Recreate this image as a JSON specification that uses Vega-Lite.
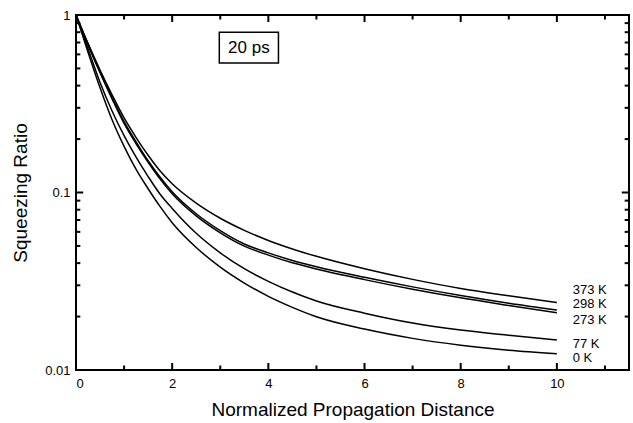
{
  "$schema": "https://vega.github.io/schema/vega-lite/v6.json",
  "width": 553,
  "height": 355,
  "autosize": {"type": "none"},
  "padding": {"left": 76, "top": 15, "right": 4, "bottom": 53},
  "background": "white",
  "config": {
    "view": {"stroke": "black", "strokeWidth": 2},
    "font": "Liberation Sans",
    "axis": {
      "grid": false,
      "domain": false,
      "ticks": false,
      "labelFont": "Liberation Sans",
      "labelFontSize": 13,
      "labelColor": "black",
      "titleFont": "Liberation Sans",
      "titleFontSize": 19,
      "titleFontWeight": "normal",
      "titleColor": "black"
    }
  },
  "datasets": {
    "curves": [
      {"T": "0 K", "x": 0, "v": 1}, {"T": "0 K", "x": 0.25, "v": 0.617}, {"T": "0 K", "x": 0.5, "v": 0.389}, {"T": "0 K", "x": 0.75, "v": 0.257}, {"T": "0 K", "x": 1, "v": 0.182}, {"T": "0 K", "x": 1.25, "v": 0.135}, {"T": "0 K", "x": 1.5, "v": 0.105}, {"T": "0 K", "x": 1.75, "v": 0.0832}, {"T": "0 K", "x": 2, "v": 0.0676}, {"T": "0 K", "x": 2.5, "v": 0.049}, {"T": "0 K", "x": 3, "v": 0.038}, {"T": "0 K", "x": 3.5, "v": 0.0309}, {"T": "0 K", "x": 4, "v": 0.026}, {"T": "0 K", "x": 4.5, "v": 0.02254}, {"T": "0 K", "x": 5, "v": 0.01995}, {"T": "0 K", "x": 6, "v": 0.017}, {"T": "0 K", "x": 7, "v": 0.01507}, {"T": "0 K", "x": 8, "v": 0.0138}, {"T": "0 K", "x": 9, "v": 0.01294}, {"T": "0 K", "x": 10, "v": 0.01236},
      {"T": "77 K", "x": 0, "v": 1}, {"T": "77 K", "x": 0.25, "v": 0.646}, {"T": "77 K", "x": 0.5, "v": 0.417}, {"T": "77 K", "x": 0.75, "v": 0.288}, {"T": "77 K", "x": 1, "v": 0.209}, {"T": "77 K", "x": 1.25, "v": 0.158}, {"T": "77 K", "x": 1.5, "v": 0.123}, {"T": "77 K", "x": 1.75, "v": 0.0977}, {"T": "77 K", "x": 2, "v": 0.0813}, {"T": "77 K", "x": 2.5, "v": 0.0589}, {"T": "77 K", "x": 3, "v": 0.0457}, {"T": "77 K", "x": 3.5, "v": 0.0372}, {"T": "77 K", "x": 4, "v": 0.0316}, {"T": "77 K", "x": 4.5, "v": 0.0275}, {"T": "77 K", "x": 5, "v": 0.0245}, {"T": "77 K", "x": 6, "v": 0.0209}, {"T": "77 K", "x": 7, "v": 0.0184}, {"T": "77 K", "x": 8, "v": 0.0168}, {"T": "77 K", "x": 9, "v": 0.0157}, {"T": "77 K", "x": 10, "v": 0.01476},
      {"T": "273 K", "x": 0, "v": 1}, {"T": "273 K", "x": 0.25, "v": 0.679}, {"T": "273 K", "x": 0.5, "v": 0.473}, {"T": "273 K", "x": 0.75, "v": 0.337}, {"T": "273 K", "x": 1, "v": 0.245}, {"T": "273 K", "x": 1.25, "v": 0.188}, {"T": "273 K", "x": 1.5, "v": 0.148}, {"T": "273 K", "x": 1.75, "v": 0.119}, {"T": "273 K", "x": 2, "v": 0.0984}, {"T": "273 K", "x": 2.5, "v": 0.0738}, {"T": "273 K", "x": 3, "v": 0.0593}, {"T": "273 K", "x": 3.5, "v": 0.0499}, {"T": "273 K", "x": 4, "v": 0.0444}, {"T": "273 K", "x": 4.5, "v": 0.0402}, {"T": "273 K", "x": 5, "v": 0.0371}, {"T": "273 K", "x": 6, "v": 0.0323}, {"T": "273 K", "x": 7, "v": 0.0285}, {"T": "273 K", "x": 8, "v": 0.0255}, {"T": "273 K", "x": 9, "v": 0.0231}, {"T": "273 K", "x": 10, "v": 0.021},
      {"T": "298 K", "x": 0, "v": 1}, {"T": "298 K", "x": 0.25, "v": 0.684}, {"T": "298 K", "x": 0.5, "v": 0.479}, {"T": "298 K", "x": 0.75, "v": 0.343}, {"T": "298 K", "x": 1, "v": 0.251}, {"T": "298 K", "x": 1.25, "v": 0.193}, {"T": "298 K", "x": 1.5, "v": 0.151}, {"T": "298 K", "x": 1.75, "v": 0.122}, {"T": "298 K", "x": 2, "v": 0.101}, {"T": "298 K", "x": 2.5, "v": 0.0759}, {"T": "298 K", "x": 3, "v": 0.061}, {"T": "298 K", "x": 3.5, "v": 0.0513}, {"T": "298 K", "x": 4, "v": 0.0457}, {"T": "298 K", "x": 4.5, "v": 0.0414}, {"T": "298 K", "x": 5, "v": 0.0382}, {"T": "298 K", "x": 6, "v": 0.0333}, {"T": "298 K", "x": 7, "v": 0.0294}, {"T": "298 K", "x": 8, "v": 0.0263}, {"T": "298 K", "x": 9, "v": 0.0238}, {"T": "298 K", "x": 10, "v": 0.0218},
      {"T": "373 K", "x": 0, "v": 1}, {"T": "373 K", "x": 0.25, "v": 0.692}, {"T": "373 K", "x": 0.5, "v": 0.49}, {"T": "373 K", "x": 0.75, "v": 0.355}, {"T": "373 K", "x": 1, "v": 0.263}, {"T": "373 K", "x": 1.25, "v": 0.204}, {"T": "373 K", "x": 1.5, "v": 0.162}, {"T": "373 K", "x": 1.75, "v": 0.132}, {"T": "373 K", "x": 2, "v": 0.112}, {"T": "373 K", "x": 2.5, "v": 0.0871}, {"T": "373 K", "x": 3, "v": 0.0716}, {"T": "373 K", "x": 3.5, "v": 0.0612}, {"T": "373 K", "x": 4, "v": 0.0537}, {"T": "373 K", "x": 4.5, "v": 0.0481}, {"T": "373 K", "x": 5, "v": 0.0437}, {"T": "373 K", "x": 6, "v": 0.0372}, {"T": "373 K", "x": 7, "v": 0.0324}, {"T": "373 K", "x": 8, "v": 0.0288}, {"T": "373 K", "x": 9, "v": 0.0262}, {"T": "373 K", "x": 10, "v": 0.024}
    ],
    "labels": [
      {"T": "373 K", "x": 10.33, "v": 0.0284},
      {"T": "298 K", "x": 10.33, "v": 0.0234},
      {"T": "273 K", "x": 10.33, "v": 0.0192},
      {"T": "77 K", "x": 10.33, "v": 0.0141},
      {"T": "0 K", "x": 10.33, "v": 0.01165}
    ],
    "box": [
      {"x": 2.98, "x2": 4.21, "v": 0.8, "v2": 0.537, "xc": 3.595, "vc": 0.655, "label": "20 ps"}
    ],
    "xmajor": [{"x": 0}, {"x": 2}, {"x": 4}, {"x": 6}, {"x": 8}, {"x": 10}],
    "xminor": [{"x": 1}, {"x": 3}, {"x": 5}, {"x": 7}, {"x": 9}, {"x": 11}],
    "ymajor": [{"v": 0.01}, {"v": 0.1}, {"v": 1}],
    "yminor": [{"v": 0.02}, {"v": 0.03}, {"v": 0.04}, {"v": 0.05}, {"v": 0.06}, {"v": 0.07}, {"v": 0.08}, {"v": 0.09}, {"v": 0.2}, {"v": 0.3}, {"v": 0.4}, {"v": 0.5}, {"v": 0.6}, {"v": 0.7}, {"v": 0.8}, {"v": 0.9}]
  },
  "layer": [
    {
      "data": {"name": "curves"},
      "mark": {"type": "line", "color": "black", "strokeWidth": 1.5, "interpolate": "monotone"},
      "encoding": {
        "x": {"field": "x", "type": "quantitative", "scale": {"domain": [0, 11.5], "nice": false, "zero": false},
              "axis": {"orient": "bottom", "values": [0, 2, 4, 6, 8, 10], "labelPadding": 7, "title": "Normalized Propagation Distance", "titlePadding": 10}},
        "y": {"field": "v", "type": "quantitative", "scale": {"type": "log", "domain": [0.01, 1], "nice": false},
              "axis": {"orient": "left", "values": [0.01, 0.1, 1], "labelPadding": 6, "format": "~g", "title": "Squeezing Ratio", "titlePadding": 14}},
        "detail": {"field": "T"}
      }
    },
    {
      "data": {"name": "labels"},
      "mark": {"type": "text", "align": "left", "baseline": "middle", "fontSize": 13, "font": "Liberation Sans", "color": "black"},
      "encoding": {
        "x": {"field": "x", "type": "quantitative"},
        "y": {"field": "v", "type": "quantitative"},
        "text": {"field": "T"}
      }
    },
    {
      "data": {"name": "box"},
      "mark": {"type": "rect", "fill": "white", "stroke": "black", "strokeWidth": 1.5},
      "encoding": {
        "x": {"field": "x", "type": "quantitative"},
        "x2": {"field": "x2"},
        "y": {"field": "v", "type": "quantitative"},
        "y2": {"field": "v2"}
      }
    },
    {
      "data": {"name": "box"},
      "mark": {"type": "text", "align": "center", "baseline": "middle", "fontSize": 17, "font": "Liberation Sans", "color": "black"},
      "encoding": {
        "x": {"field": "xc", "type": "quantitative"},
        "y": {"field": "vc", "type": "quantitative"},
        "text": {"field": "label"}
      }
    },
    {
      "data": {"name": "xmajor"},
      "mark": {"type": "rule", "color": "black", "strokeWidth": 2},
      "encoding": {"x": {"field": "x", "type": "quantitative"}, "y": {"datum": 0.01, "type": "quantitative"}, "y2": {"datum": 0.01095}}
    },
    {
      "data": {"name": "xminor"},
      "mark": {"type": "rule", "color": "black", "strokeWidth": 2},
      "encoding": {"x": {"field": "x", "type": "quantitative"}, "y": {"datum": 0.01, "type": "quantitative"}, "y2": {"datum": 0.0106}}
    },
    {
      "data": {"name": "xmajor"},
      "mark": {"type": "rule", "color": "black", "strokeWidth": 2},
      "encoding": {"x": {"field": "x", "type": "quantitative"}, "y": {"datum": 1, "type": "quantitative"}, "y2": {"datum": 0.913}}
    },
    {
      "data": {"name": "xminor"},
      "mark": {"type": "rule", "color": "black", "strokeWidth": 2},
      "encoding": {"x": {"field": "x", "type": "quantitative"}, "y": {"datum": 1, "type": "quantitative"}, "y2": {"datum": 0.943}}
    },
    {
      "data": {"name": "ymajor"},
      "mark": {"type": "rule", "color": "black", "strokeWidth": 2},
      "encoding": {"y": {"field": "v", "type": "quantitative"}, "x": {"datum": 0, "type": "quantitative"}, "x2": {"datum": 0.15}}
    },
    {
      "data": {"name": "yminor"},
      "mark": {"type": "rule", "color": "black", "strokeWidth": 2},
      "encoding": {"y": {"field": "v", "type": "quantitative"}, "x": {"datum": 0, "type": "quantitative"}, "x2": {"datum": 0.09}}
    },
    {
      "data": {"name": "ymajor"},
      "mark": {"type": "rule", "color": "black", "strokeWidth": 2},
      "encoding": {"y": {"field": "v", "type": "quantitative"}, "x": {"datum": 11.5, "type": "quantitative"}, "x2": {"datum": 11.35}}
    },
    {
      "data": {"name": "yminor"},
      "mark": {"type": "rule", "color": "black", "strokeWidth": 2},
      "encoding": {"y": {"field": "v", "type": "quantitative"}, "x": {"datum": 11.5, "type": "quantitative"}, "x2": {"datum": 11.41}}
    }
  ]
}
